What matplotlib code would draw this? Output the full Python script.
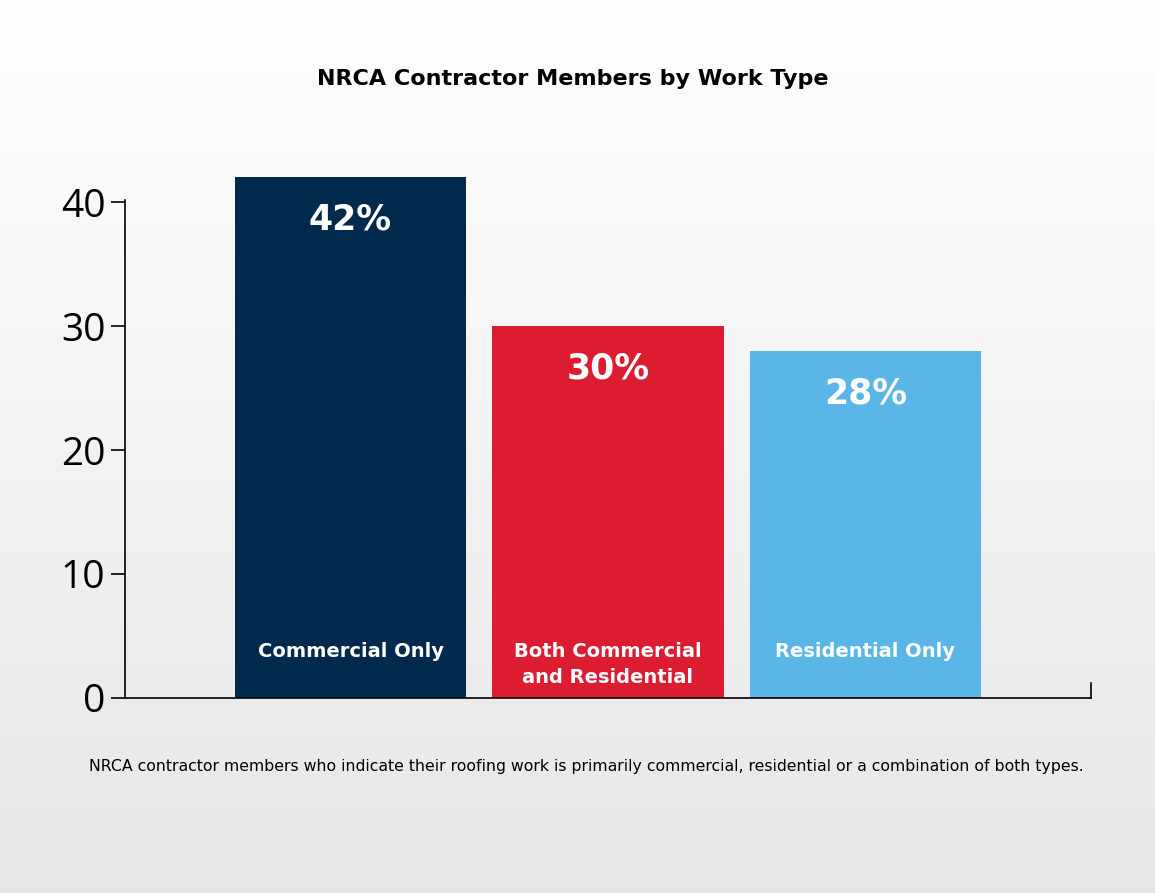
import matplotlib
matplotlib.use("Agg")
import matplotlib.pyplot as plt
import numpy as np

categories = ["Commercial Only", "Both Commercial\nand Residential", "Residential Only"]
values = [42, 30, 28]
value_labels = ["42%", "30%", "28%"]
colors = ["#002a4d", "#dc1c31", "#5ab6e6"]
yticks = [0, 10, 20, 30, 40]

fig = plt.figure(figsize=(11.55, 8.93), dpi=100)
bg = fig.add_axes([0, 0, 1, 1], zorder=-10)
grad = np.linspace(1.0, 0.0, 256).reshape(-1, 1)
top = np.array([1.0, 1.0, 1.0]); bot = np.array([0.905, 0.905, 0.915])
img = top * grad[..., None] + bot * (1 - grad[..., None])
bg.imshow(img, aspect="auto", extent=[0, 1, 0, 1])
bg.axis("off")

ax = fig.add_axes([0.1082, 0.2184, 0.8364, 0.6025])
ax.patch.set_alpha(0)
x = np.arange(len(values))
ax.bar(x, values, width=0.9, color=colors)
ax.set_xlim(-0.876, 2.876)
ax.set_ylim(0, 43.4)
ax.set_yticks(yticks)
ax.set_yticklabels([str(t) for t in yticks], fontsize=28, fontname="Open Sans")
ax.tick_params(axis="y", length=10, width=1.2, pad=4)
ax.set_xticks([])
ax.spines["top"].set_visible(False)
ax.spines["right"].set_visible(False)
ax.spines["left"].set_bounds(0, 40.2)
for s in ["left", "bottom"]:
    ax.spines[s].set_linewidth(1.2)
ax.plot([2.876, 2.876], [0, 1.2], color="black", lw=1.2, clip_on=False)

for xi, v, lab in zip(x, values, value_labels):
    ax.text(xi, v - 1.0, lab, ha="center", va="center", color="white",
            fontsize=25, fontweight="bold", fontname="DejaVu Sans",
            transform=ax.transData)
# shift labels down to match reference placement
for t in ax.texts:
    t.set_y(t.get_position()[1] - 2.4)
for xi, c in zip(x, categories):
    ax.text(xi, 4.5, c, ha="center", va="top", color="white",
            fontsize=14, fontweight="bold", fontname="DejaVu Sans", linespacing=1.45)

fig.text(0.496, 0.911, "NRCA Contractor Members by Work Type", ha="center", va="center",
         fontsize=16, fontweight="bold", fontname="DejaVu Sans")
fig.text(0.508, 0.142, "NRCA contractor members who indicate their roofing work is primarily commercial, residential or a combination of both types.",
         ha="center", va="center", fontsize=11.3, fontname="DejaVu Sans")

fig.savefig("out.png", dpi=100)
